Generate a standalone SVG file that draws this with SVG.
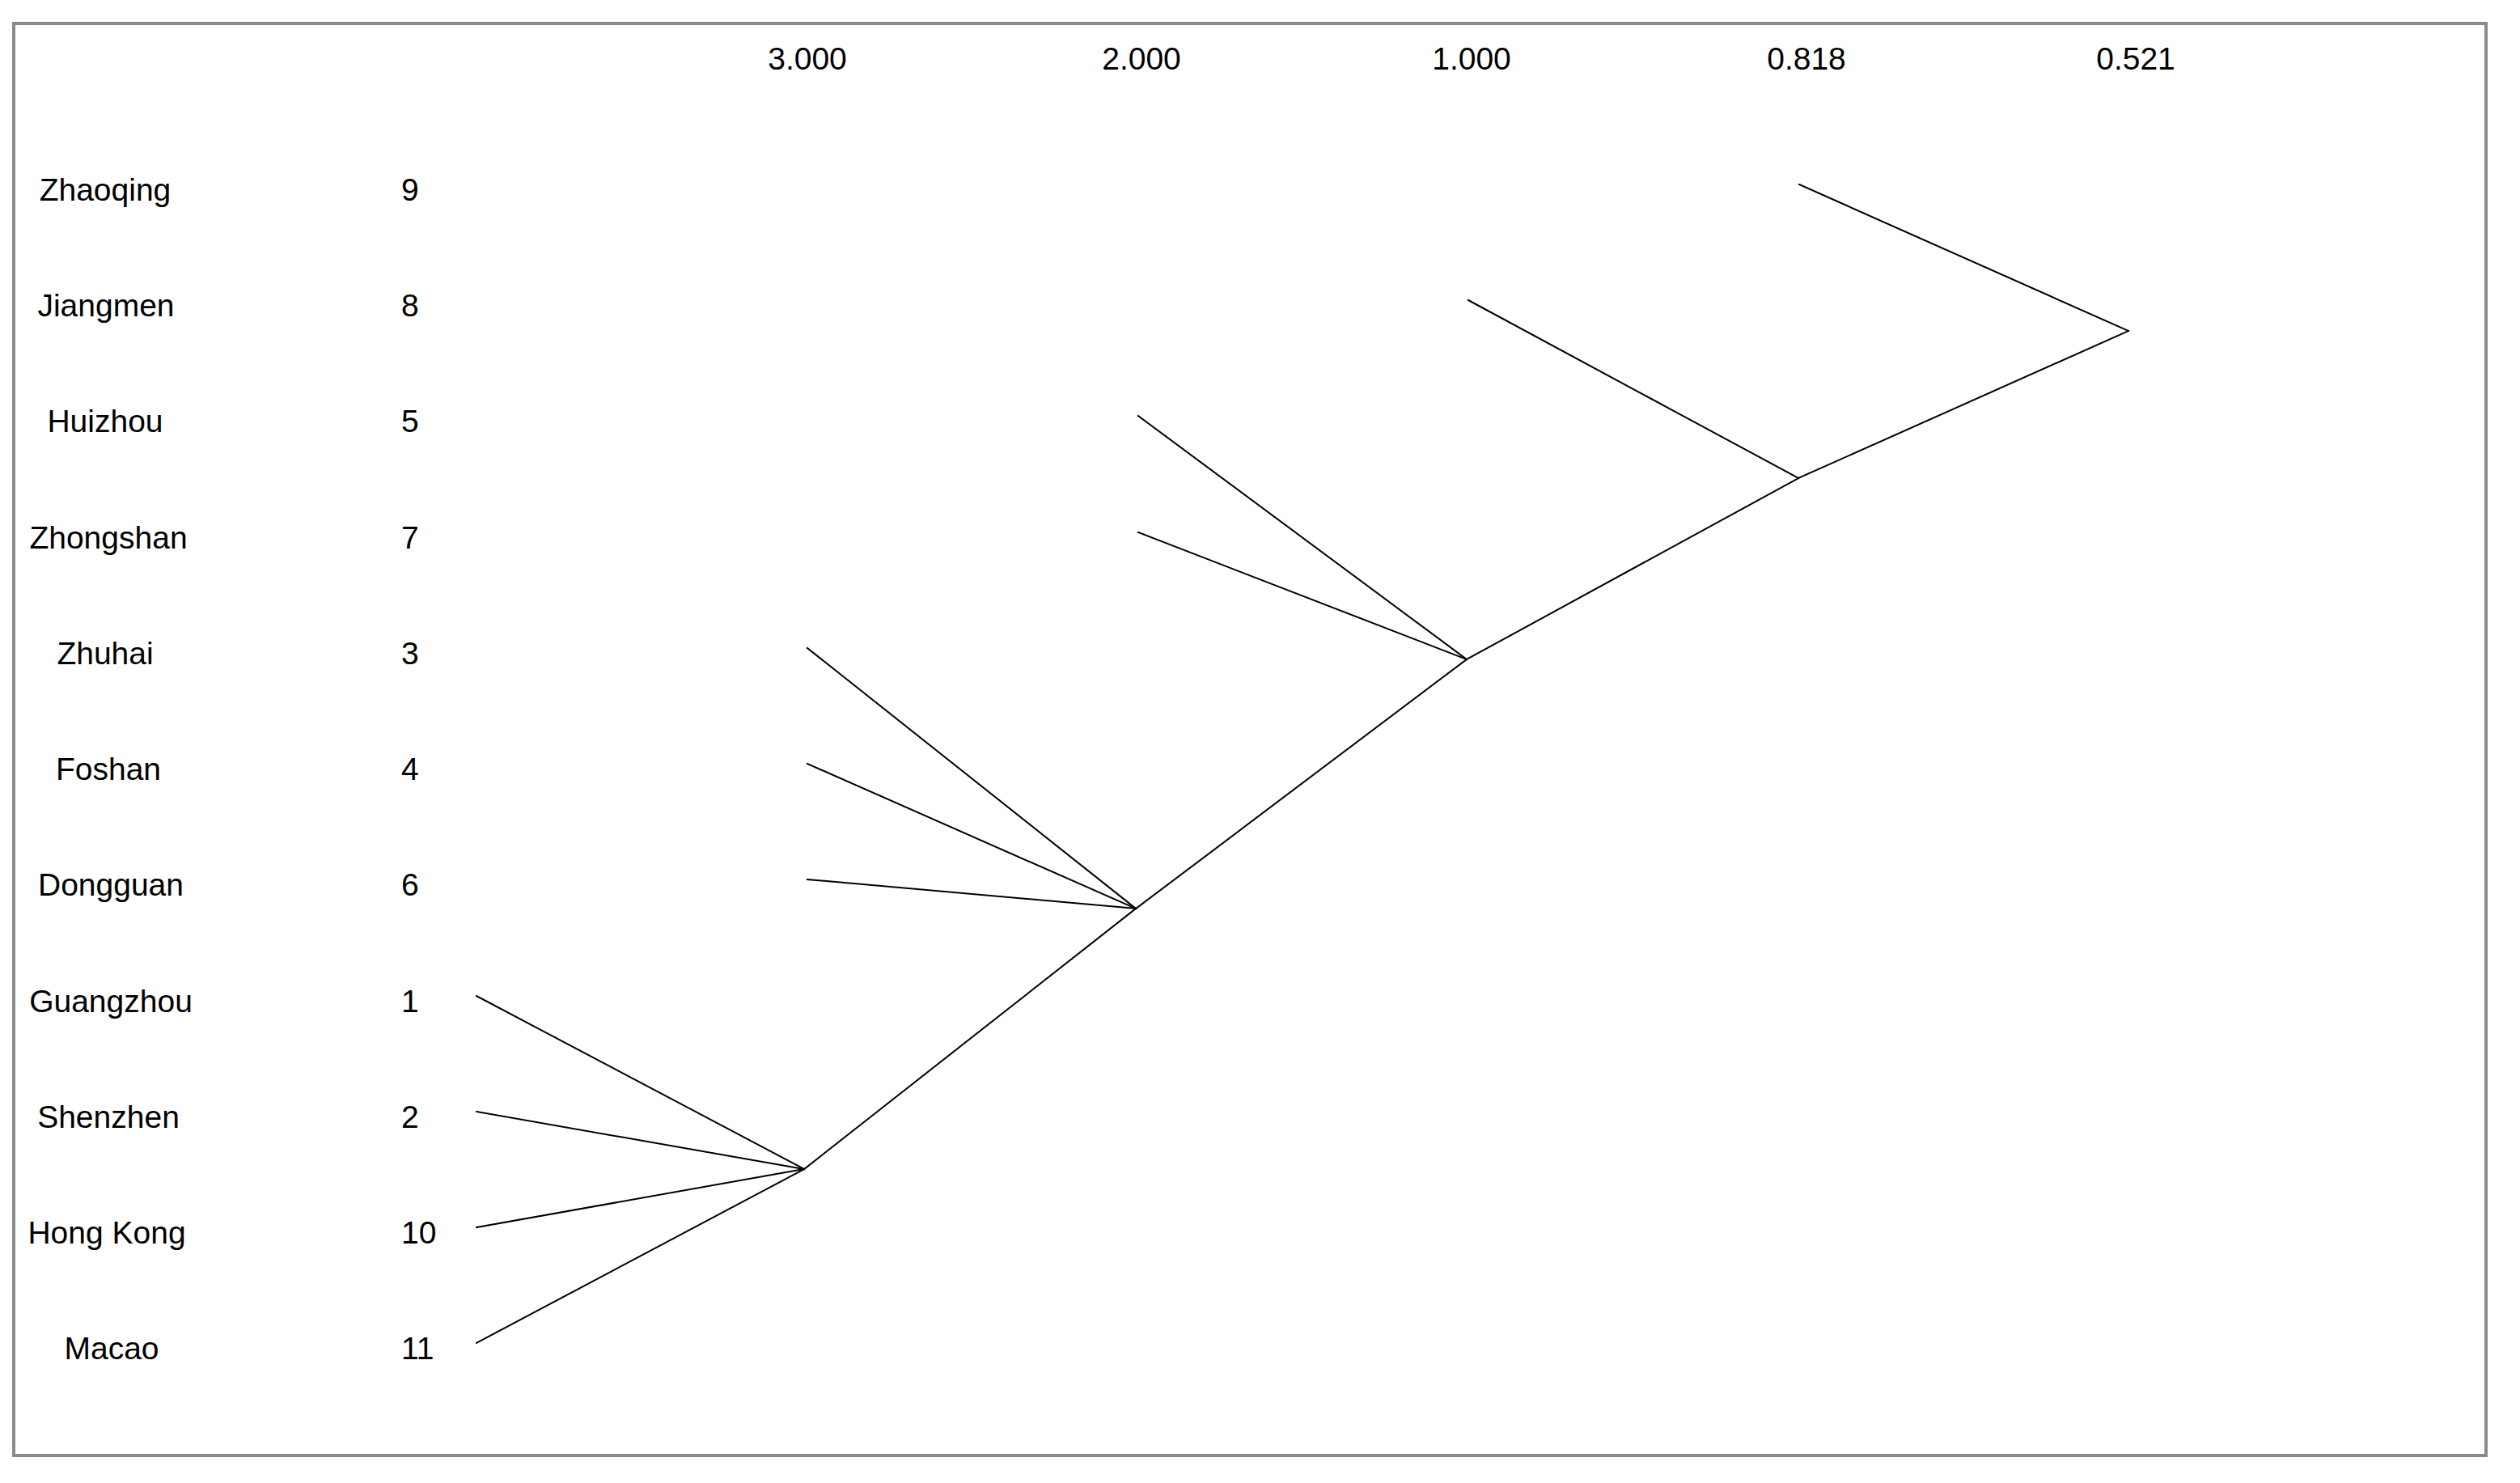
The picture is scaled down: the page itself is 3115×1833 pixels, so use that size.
<svg xmlns="http://www.w3.org/2000/svg" width="3115" height="1833" viewBox="0 0 3115 1833">
<style>
.t{font-family:"Liberation Sans",Arial,sans-serif;font-size:39px;fill:#000}
.c{text-anchor:middle}
.e{stroke:#000;stroke-width:2;fill:none;stroke-linecap:square}
</style>
<rect width="3115" height="1833" fill="#fff"/>
<rect x="17" y="29" width="3056" height="1770" fill="#fff" stroke="#8a8a8a" stroke-width="4"/>
<g id="axis">
<text class="t c" x="998" y="86">3.000</text>
<text class="t c" x="1411" y="86">2.000</text>
<text class="t c" x="1819" y="86">1.000</text>
<text class="t c" x="2233" y="86">0.818</text>
<text class="t c" x="2640" y="86">0.521</text>
</g>
<g id="n-zhaoqing"><text class="t c" x="130" y="248">Zhaoqing</text><text class="t" x="496" y="248">9</text></g>
<g id="n-jiangmen"><text class="t c" x="131" y="391">Jiangmen</text><text class="t" x="496" y="391">8</text></g>
<g id="n-huizhou"><text class="t c" x="130" y="534">Huizhou</text><text class="t" x="496" y="534">5</text></g>
<g id="n-zhongshan"><text class="t c" x="134" y="678">Zhongshan</text><text class="t" x="496" y="678">7</text></g>
<g id="n-zhuhai"><text class="t c" x="130" y="821">Zhuhai</text><text class="t" x="496" y="821">3</text></g>
<g id="n-foshan"><text class="t c" x="134" y="964">Foshan</text><text class="t" x="496" y="964">4</text></g>
<g id="n-dongguan"><text class="t c" x="137" y="1107">Dongguan</text><text class="t" x="496" y="1107">6</text></g>
<g id="n-guangzhou"><text class="t c" x="137" y="1251">Guangzhou</text><text class="t" x="496" y="1251">1</text></g>
<g id="n-shenzhen"><text class="t c" x="134" y="1394">Shenzhen</text><text class="t" x="496" y="1394">2</text></g>
<g id="n-hongkong"><text class="t c" x="132" y="1537">Hong Kong</text><text class="t" x="496" y="1537">10</text></g>
<g id="n-macao"><text class="t c" x="138" y="1680">Macao</text><text class="t" x="496" y="1680">11</text></g>
<g id="connectors" class="e">
<line class="e" x1="589" y1="1231" x2="994" y2="1445"/>
<line class="e" x1="589" y1="1374" x2="994" y2="1445"/>
<line class="e" x1="589" y1="1517" x2="994" y2="1445"/>
<line class="e" x1="589" y1="1660" x2="994" y2="1445"/>
<line class="e" x1="998" y1="801" x2="1404" y2="1123"/>
<line class="e" x1="998" y1="944" x2="1404" y2="1123"/>
<line class="e" x1="998" y1="1087" x2="1404" y2="1123"/>
<line class="e" x1="994" y1="1445" x2="1404" y2="1123"/>
<line class="e" x1="1407" y1="514" x2="1813" y2="815"/>
<line class="e" x1="1407" y1="658" x2="1813" y2="815"/>
<line class="e" x1="1404" y1="1123" x2="1813" y2="815"/>
<line class="e" x1="1815" y1="371" x2="2223" y2="591"/>
<line class="e" x1="1813" y1="815" x2="2223" y2="591"/>
<line class="e" x1="2224" y1="228" x2="2631" y2="409"/>
<line class="e" x1="2223" y1="591" x2="2631" y2="409"/>
</g>
</svg>
